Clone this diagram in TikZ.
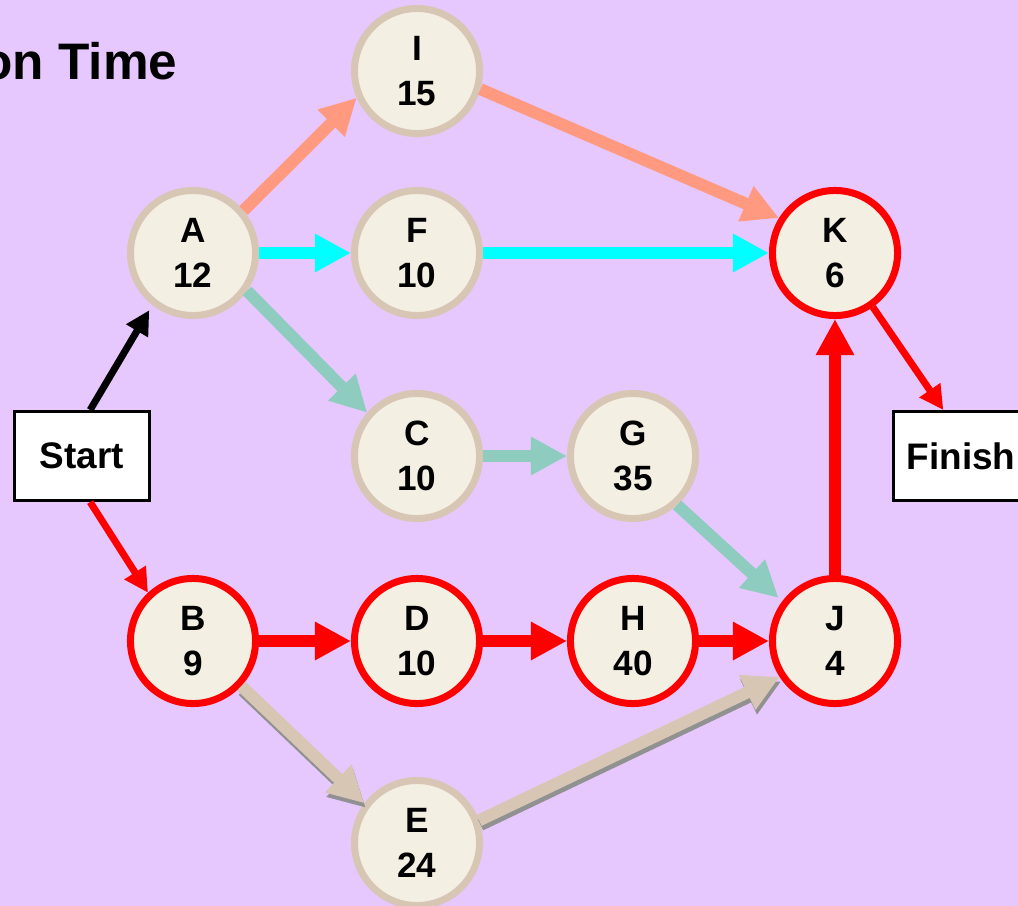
\documentclass[tikz,border=0pt]{standalone}
\usepackage{fontspec}
\setmainfont{Liberation Sans}
\usepackage{xcolor}
\usepackage{tikz}
\usetikzlibrary{arrows.meta}

\definecolor{bglav}{RGB}{230,200,254}
\definecolor{nodecream}{RGB}{243,239,227}
\definecolor{nodetan}{RGB}{216,198,181}
\definecolor{arrsalmon}{RGB}{255,153,128}
\definecolor{arrteal}{RGB}{143,204,192}
\definecolor{arrcyan}{RGB}{0,255,255}
\definecolor{shadowgray}{RGB}{145,145,145}

\begin{document}
\begin{tikzpicture}[x=0.01cm, y=-0.01cm,
    task/.style={circle, draw=nodetan, fill=nodecream, line width=0.07cm,
        minimum size=1.25cm, inner sep=0pt, align=center,
        font=\fontsize{10}{12.8}\selectfont\bfseries},
    crit/.style={task, draw=red},
    endbox/.style={draw=black, fill=white, line width=0.03cm,
        minimum width=1.35cm, minimum height=0.89cm,
        font=\fontsize{10.5}{12}\selectfont\bfseries},
    fatarr/.style={line width=0.12cm, -{Triangle[length=0.36cm, width=0.36cm]}},
    thinarr/.style={line width=0.07cm, -{Triangle[length=0.24cm, width=0.24cm]}},
    tanarr/.style={fatarr, draw=nodetan,
        preaction={draw=shadowgray, line width=0.12cm,
            transform canvas={shift={(1.5,4.5)}}}}]
    % Nền
    \fill[bglav] (0,0) rectangle (1018,906);
    \useasboundingbox (0,0) rectangle (1018,906);
    \node[anchor=base east, inner sep=0pt, font=\fontsize{14.6}{17}\selectfont\bfseries] (title) at (178,80) {on Time};

    % Các công việc
    \node[task] (I) at (417,71) {I\\15};
    \node[task] (A) at (193,253) {A\\12};
    \node[task] (F) at (417,253) {F\\10};
    \node[crit] (K) at (835,253) {K\\6};
    \node[task] (C) at (417,456) {C\\10};
    \node[task] (G) at (633,456) {G\\35};
    \node[crit] (B) at (193,641) {B\\9};
    \node[crit] (D) at (417,641) {D\\10};
    \node[crit] (H) at (633,641) {H\\40};
    \node[crit] (J) at (835,641) {J\\4};
    \node[task] (E) at (417,843) {E\\24};
    \node[endbox] (start) at (82,456) {Start};
    \node[endbox] (finish) at (961,456) {Finish};

    % Các cung
    \draw[thinarr, black, shorten >=0.06cm] (start.80) -- (A.232);
    \draw[thinarr, red] (start.280) -- (B.133);
    \draw[fatarr, arrsalmon] (A.40) -- (I.204);
    \draw[fatarr, arrcyan] (A) -- (F);
    \draw[fatarr, arrteal] (A.325) -- (C.139);
    \draw[fatarr, arrsalmon] (I.344) -- (K.148);
    \draw[fatarr, arrcyan] (F) -- (K);
    \draw[fatarr, arrteal] (C) -- (G);
    \draw[fatarr, arrteal, shorten >=0.05cm] (G.312) -- (J.143);
    \draw[fatarr, red] (B) -- (D);
    \draw[fatarr, red] (D) -- (H);
    \draw[fatarr, red] (H) -- (J);
    \draw[fatarr, red] (J) -- (K);
    \draw[thinarr, red] (K.305) -- (finish.111);
    \draw[tanarr] (B.317) -- (E.143);
    \draw[tanarr] (E.20) -- (J.213);
\end{tikzpicture}
\end{document}
